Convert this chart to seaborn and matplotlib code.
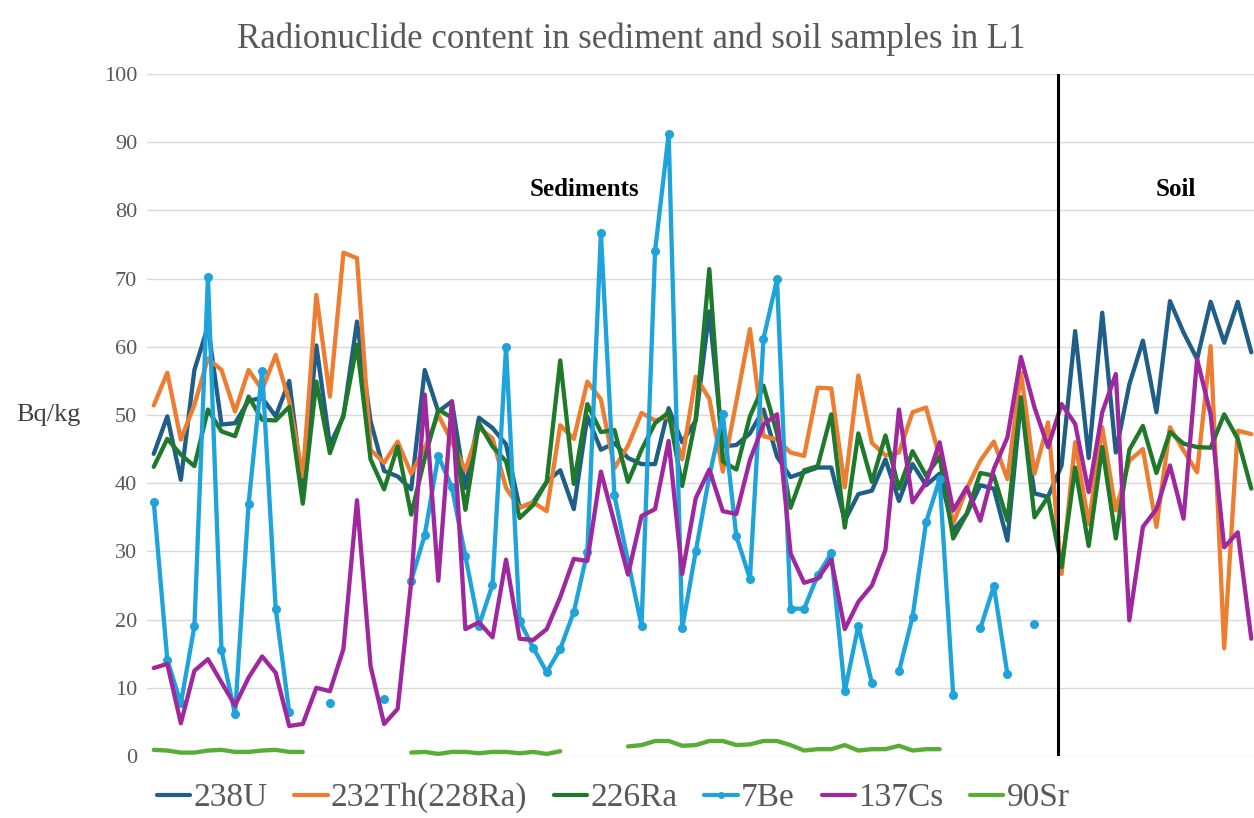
import numpy as np
import pandas as pd
import matplotlib
matplotlib.use("Agg")
import matplotlib.pyplot as plt
from matplotlib.lines import Line2D
import seaborn as sns

nan = np.nan

series_names = ["238U", "232Th(228Ra)", "226Ra", "7Be", "137Cs", "90Sr"]
colors = ["#1F5E87", "#ED7D31", "#1E7A2A", "#1EA3DA", "#A0289E", "#58AD36"]

u238 = [44.3, 49.8, 40.5, 56.6, 63.0, 48.6, 48.8, 52.1, 52.5, 49.8, 55.0, 39.0, 60.2, 45.6, 49.8, 63.7,
        49.1, 41.8, 41.0, 39.1, 56.6, 50.5, 52.0, 39.3, 49.6, 48.1, 45.7, 36.4, 37.2, 40.2, 41.9, 36.2,
        49.8, 44.9, 45.9, 43.7, 42.8, 42.8, 51.0, 46.0, 49.2, 65.2, 45.4, 45.6, 47.3, 50.8, 43.9, 40.9,
        41.6, 42.3, 42.3, 34.5, 38.4, 38.9, 43.5, 37.4, 42.8, 39.7, 41.4, 33.1, 35.5, 39.7, 39.2, 31.6,
        52.1, 38.5, 38.0, 42.6, 62.3, 43.7, 65.0, 44.5, 54.5, 60.9, 50.4, 66.7, 62.1, 58.2, 66.6, 60.6,
        66.6, 59.2]

th232 = [51.4, 56.2, 46.4, 51.5, 58.3, 56.6, 50.5, 56.6, 53.7, 58.8, 52.0, 41.0, 67.6, 52.7, 73.8, 73.0,
         44.9, 43.0, 46.1, 41.4, 45.2, 50.0, 46.1, 41.9, 48.1, 46.6, 39.3, 36.4, 37.2, 35.9, 48.5, 46.5,
         54.9, 52.3, 42.2, 45.5, 50.3, 49.2, 49.8, 43.5, 55.6, 52.4, 41.7, 52.0, 62.6, 46.9, 46.4, 44.5,
         44.0, 54.0, 53.9, 39.4, 55.8, 45.9, 44.1, 44.5, 50.4, 51.1, 43.8, 34.1, 39.2, 43.3, 46.1, 40.6,
         56.2, 41.4, 48.9, 26.7, 46.0, 34.0, 48.2, 36.0, 43.3, 45.0, 33.6, 48.2, 44.8, 41.6, 60.1, 15.8,
         47.7, 47.2]

ra226 = [42.4, 46.5, 44.2, 42.5, 50.8, 47.6, 46.9, 52.7, 49.3, 49.2, 51.2, 37.0, 54.9, 44.4, 50.0, 60.3,
         43.5, 39.1, 45.4, 35.4, 43.7, 50.8, 49.6, 36.1, 48.8, 45.4, 43.2, 34.9, 36.8, 40.2, 58.0, 39.9,
         51.6, 47.5, 47.8, 40.2, 44.9, 48.8, 50.4, 39.6, 49.4, 71.4, 43.2, 42.0, 49.8, 54.3, 47.3, 36.4,
         41.9, 42.5, 50.1, 33.5, 47.3, 40.2, 47.0, 39.2, 44.7, 41.1, 43.9, 31.9, 35.5, 41.5, 41.1, 34.5,
         52.6, 35.0, 38.0, 27.7, 42.3, 30.8, 45.3, 31.9, 44.9, 48.4, 41.5, 47.5, 45.8, 45.3, 45.2, 50.1,
         46.5, 39.2]

be7 = [37.3, 14.1, 7.7, 19.0, 70.3, 15.5, 6.1, 37.0, 56.5, 21.6, 6.4, nan, nan, 7.8, nan, nan,
       nan, 8.3, nan, 25.7, 32.4, 44.0, 39.4, 29.3, 19.1, 25.1, 60.0, 19.8, 15.9, 12.3, 15.7, 21.1,
       29.9, 76.7, 38.2, 28.6, 19.1, 74.1, 91.2, 18.7, 30.0, 41.0, 50.1, 32.2, 26.0, 61.2, 69.9, 21.6,
       21.6, 26.5, 29.7, 9.5, 19.1, 10.7, nan, 12.4, 20.4, 34.3, 40.6, 9.0, nan, 18.7, 24.9, 12.0,
       nan, 19.4, nan, nan, nan, nan, nan, nan, nan, nan, nan, nan, nan, nan, nan, nan,
       nan, nan]

cs137 = [12.9, 13.5, 4.8, 12.5, 14.2, 10.8, 7.4, 11.5, 14.6, 12.2, 4.4, 4.7, 10.0, 9.5, 15.7, 37.5,
         13.2, 4.7, 6.9, 25.5, 53.0, 25.7, 52.0, 18.6, 19.6, 17.4, 28.8, 17.2, 17.0, 18.6, 23.3, 28.9,
         28.6, 41.7, 34.2, 26.6, 35.2, 36.2, 46.2, 26.7, 37.8, 42.0, 35.9, 35.5, 43.4, 48.6, 50.1, 29.7,
         25.4, 26.0, 28.8, 18.6, 22.6, 25.0, 30.2, 50.8, 37.2, 40.1, 46.0, 36.0, 39.4, 34.5, 42.1, 46.7,
         58.5, 51.1, 45.3, 51.6, 48.7, 38.7, 50.4, 56.0, 19.9, 33.6, 36.2, 42.6, 34.8, 58.2, 50.1, 30.6,
         32.8, 17.2]

sr90 = [0.9, 0.8, 0.5, 0.5, 0.8, 0.9, 0.6, 0.6, 0.8, 0.9, 0.6, 0.6, nan, nan, nan, nan,
        nan, nan, nan, 0.5, 0.6, 0.3, 0.6, 0.6, 0.4, 0.6, 0.6, 0.4, 0.6, 0.3, 0.7, nan,
        nan, nan, nan, 1.4, 1.6, 2.2, 2.2, 1.5, 1.6, 2.2, 2.2, 1.6, 1.7, 2.2, 2.2, 1.6,
        0.8, 1.0, 1.0, 1.6, 0.8, 1.0, 1.0, 1.5, 0.8, 1.0, 1.0, nan, nan, nan, nan, nan,
        nan, nan, nan, nan, nan, nan, nan, nan, nan, nan, nan, nan, nan, nan, nan, nan,
        nan, nan]

all_values = [u238, th232, ra226, be7, cs137, sr90]
n_samples = len(u238)
sample_idx = np.arange(n_samples)
boundary = 66.7  # sediments | soil separator

# long-format table; "segment" splits each series at its gaps
frames = []
for name, vals in zip(series_names, all_values):
    v = np.asarray(vals, dtype=float)
    seg = np.cumsum(np.isnan(v))
    frames.append(pd.DataFrame({"sample": sample_idx, "value": v, "series": name, "segment": seg}))
df = pd.concat(frames, ignore_index=True)

sns.set_theme(style="white")
plt.rcParams["font.family"] = ["Liberation Serif", "DejaVu Serif"]

fig = plt.figure(figsize=(12.54, 8.18), dpi=100)
ax = fig.add_axes([0.1172, 0.0758, 0.8828, 0.8337])

for name, col in zip(series_names, colors):
    sub = df[(df["series"] == name) & df["value"].notna()]
    kw = dict(marker="o", markersize=6.5, markeredgewidth=0) if name == "7Be" else {}
    sns.lineplot(data=sub, x="sample", y="value", units="segment", estimator=None,
                 color=col, linewidth=3.1, ax=ax, legend=False, sort=True, **kw)

ax.axvline(boundary, color="black", linewidth=2.2, zorder=10)

ax.set_xlim(-0.5, 81.2)
ax.set_ylim(0, 100)
ax.set_yticks(np.arange(0, 101, 10))
ax.set_xticks([])
ax.set_xlabel("")
ax.set_ylabel("")
ax.yaxis.grid(True, color="#D9D9D9", linewidth=1.0)
ax.set_axisbelow(True)
for s in ax.spines.values():
    s.set_visible(False)
ax.tick_params(axis="y", length=0, pad=7, labelsize=16, labelcolor="#595959")

ax.text(31.75, 83.1, "Sediments", ha="center", va="center", fontsize=18,
        fontweight="bold", color="black")
ax.text(75.44, 83.1, "Soil", ha="center", va="center", fontsize=18,
        fontweight="bold", color="black")

fig.text(0.5036, 0.9525, "Radionuclide content in sediment and soil samples in L1",
         ha="center", va="center", fontsize=25, color="#595959")
fig.text(0.0383, 0.4927, "Bq/kg", ha="center", va="center", fontsize=19, color="#404040")

handles = []
for name, col in zip(series_names, colors):
    if name == "7Be":
        handles.append(Line2D([0], [0], color=col, lw=3, marker="o", markersize=5, markeredgewidth=0))
    else:
        handles.append(Line2D([0], [0], color=col, lw=3))
leg = fig.legend(handles, series_names, loc="center", bbox_to_anchor=(0.489, 0.0244), ncol=6,
                 frameon=False, fontsize=24, handlelength=1.0, handletextpad=0.1,
                 columnspacing=0.8, labelcolor="#595959")

fig.savefig("out.png", dpi=100)
